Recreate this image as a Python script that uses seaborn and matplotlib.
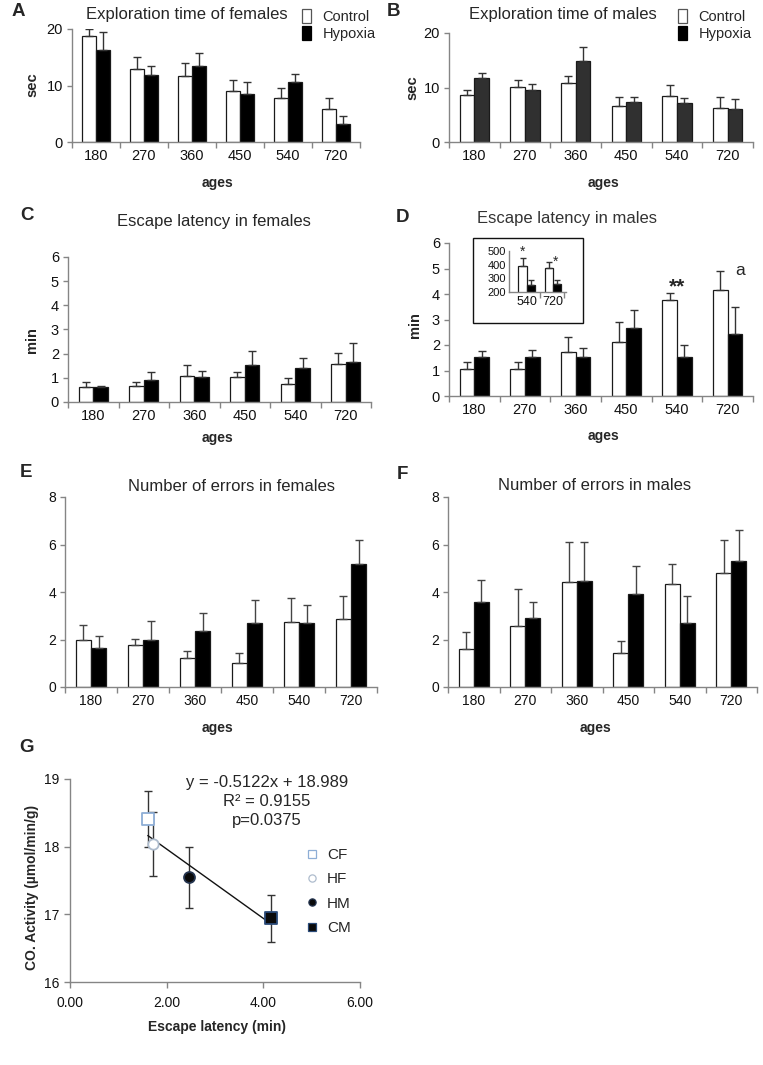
import numpy as np
import pandas as pd
import matplotlib
matplotlib.use("Agg")
import matplotlib.pyplot as plt
import seaborn as sns
from matplotlib.patches import Patch, Rectangle
from matplotlib.lines import Line2D

# ---------------- data ----------------
ages = ["180", "270", "360", "450", "540", "720"]
groups = ["Control", "Hypoxia"]

explo_f_ctrl = [18.7, 12.9, 11.7, 9.1, 7.7, 5.9]
explo_f_ctrl_err = [1.3, 2.2, 2.2, 1.8, 1.8, 1.8]
explo_f_hyp = [16.3, 11.9, 13.5, 8.5, 10.7, 3.2]
explo_f_hyp_err = [3.1, 1.5, 2.2, 2.1, 1.3, 1.4]

explo_m_ctrl = [8.55, 10.15, 10.9, 6.6, 8.4, 6.3]
explo_m_ctrl_err = [0.95, 1.15, 1.2, 1.7, 2.1, 1.9]
explo_m_hyp = [11.7, 9.5, 14.9, 7.3, 7.2, 6.0]
explo_m_hyp_err = [1.0, 1.1, 2.5, 1.0, 0.9, 1.8]

lat_f_ctrl = [0.63, 0.67, 1.09, 1.05, 0.75, 1.58]
lat_f_ctrl_err = [0.21, 0.17, 0.44, 0.21, 0.25, 0.44]
lat_f_hyp = [0.60, 0.90, 1.05, 1.53, 1.40, 1.67]
lat_f_hyp_err = [0.08, 0.33, 0.23, 0.59, 0.41, 0.77]

lat_m_ctrl = [1.06, 1.06, 1.73, 2.13, 3.76, 4.15]
lat_m_ctrl_err = [0.26, 0.27, 0.59, 0.78, 0.26, 0.75]
lat_m_hyp = [1.54, 1.51, 1.51, 2.67, 1.51, 2.45]
lat_m_hyp_err = [0.22, 0.29, 0.39, 0.70, 0.49, 1.05]

inset_ages = ["540", "720"]
inset_ctrl = [390, 378]
inset_ctrl_err = [60, 38]
inset_hyp = [250, 262]
inset_hyp_err = [35, 25]

err_f_ctrl = [2.0, 1.75, 1.24, 0.99, 2.72, 2.85]
err_f_ctrl_err = [0.63, 0.29, 0.27, 0.46, 1.04, 0.98]
err_f_hyp = [1.66, 2.0, 2.34, 2.68, 2.68, 5.18]
err_f_hyp_err = [0.48, 0.77, 0.76, 0.98, 0.76, 0.99]

err_m_ctrl = [1.58, 2.58, 4.44, 1.44, 4.34, 4.82]
err_m_ctrl_err = [0.72, 1.56, 1.66, 0.48, 0.84, 1.36]
err_m_hyp = [3.56, 2.9, 4.45, 3.9, 2.68, 5.31]
err_m_hyp_err = [0.93, 0.69, 1.66, 1.18, 1.15, 1.29]

co_groups = ["CF", "HF", "HM", "CM"]
co_latency = [1.61, 1.71, 2.46, 4.15]
co_activity = [18.41, 18.04, 17.55, 16.94]
co_err = [0.41, 0.47, 0.45, 0.35]
fit_slope = -0.5122
fit_intercept = 18.989

# ---------------- style ----------------
sns.set_style("white")
plt.rcParams["font.family"] = ["Liberation Sans", "DejaVu Sans"]
plt.rcParams["axes.linewidth"] = 1.0

W, H = 763, 1065
fig = plt.figure(figsize=(W / 100, H / 100), dpi=100)


def fx(px):
    return px / W


def fy(py):
    return 1 - py / H


def rect(x0, y0, x1, y1):
    return [fx(x0), fy(y1), fx(x1) - fx(x0), fy(y0) - fy(y1)]


SPINE = "#858585"


def style_axes(ax):
    for s in ["top", "right"]:
        ax.spines[s].set_visible(False)
    for s in ["left", "bottom"]:
        ax.spines[s].set_color(SPINE)
        ax.spines[s].set_linewidth(1.0)


def bar_panel(r, ctrl, ctrl_err, hyp, hyp_err, ylim, yticks, hyp_color="black",
              cats=ages, width=0.58, fs=10.5, yfs=10.5, capsize=3.2, ecolor="#333333",
              xlim=None):
    ax = fig.add_axes(r)
    n = len(cats)
    df = pd.DataFrame({"age": cats * 2,
                       "group": ["Control"] * n + ["Hypoxia"] * n,
                       "value": list(ctrl) + list(hyp)})
    sns.barplot(data=df, x="age", y="value", hue="group", order=cats, hue_order=groups,
                palette={"Control": "white", "Hypoxia": hyp_color}, width=width,
                errorbar=None, edgecolor="#1a1a1a", linewidth=0.9, saturation=1,
                legend=False, ax=ax)
    for cont, err in zip(ax.containers, [ctrl_err, hyp_err]):
        xs = [p.get_x() + p.get_width() / 2 for p in cont]
        ys = [p.get_height() for p in cont]
        ax.errorbar(xs, ys, yerr=[np.zeros(len(err)), err], fmt="none", ecolor=ecolor,
                    elinewidth=1.0, capsize=capsize, capthick=1.0, zorder=1)
    style_axes(ax)
    ax.set_ylim(*ylim)
    ax.set_yticks(yticks)
    ax.set_xlim(*(xlim if xlim else (-0.5, n - 0.5)))
    ax.set_xticks(range(n))
    ax.set_xticklabels(cats)
    ax.set_xticks(np.arange(-0.5, n, 1.0), minor=True)
    ax.tick_params(axis="x", which="major", length=0, labelsize=fs, pad=5, labelcolor="#111")
    ax.tick_params(axis="x", which="minor", length=4, width=1, color=SPINE, direction="out",
                   bottom=True)
    ax.tick_params(axis="y", which="major", length=3.5, width=1, color=SPINE, direction="out",
                   left=True, labelsize=yfs, pad=3, labelcolor="#111")
    ax.set_xlabel("")
    ax.set_ylabel("")
    return ax


def ftext(px, py, s, **kw):
    fig.text(fx(px), fy(py), s, ha=kw.pop("ha", "center"), va=kw.pop("va", "center"), **kw)


# ---------------- A ----------------
axA = bar_panel(rect(72, 29, 360, 142), explo_f_ctrl, explo_f_ctrl_err, explo_f_hyp,
                explo_f_hyp_err, (0, 20), [0, 10, 20])
# ---------------- B ----------------
axB = bar_panel(rect(449, 33, 753, 142), explo_m_ctrl, explo_m_ctrl_err, explo_m_hyp,
                explo_m_hyp_err, (0, 20), [0, 10, 20], hyp_color="#303030")
# ---------------- C ----------------
axC = bar_panel(rect(68, 257, 371, 402), lat_f_ctrl, lat_f_ctrl_err, lat_f_hyp,
                lat_f_hyp_err, (0, 6), range(0, 7))
# ---------------- D ----------------
axD = bar_panel(rect(449, 243, 753, 396), lat_m_ctrl, lat_m_ctrl_err, lat_m_hyp,
                lat_m_hyp_err, (0, 6), range(0, 7))
axD.text(4, 4.08, "**", ha="center", va="baseline", fontsize=15, fontweight="bold")
axD.text(5.24, 4.74, "a", ha="center", va="baseline", fontsize=12.5)

# inset box and inset axes
fig.add_artist(Rectangle((fx(473), fy(323)), fx(583) - fx(473), fy(238) - fy(323),
                         transform=fig.transFigure, fill=False, edgecolor="#111",
                         linewidth=1.0))
axI = bar_panel(rect(509, 251, 566, 292), inset_ctrl, inset_ctrl_err, inset_hyp,
                inset_hyp_err, (200, 500), [200, 300, 400, 500], cats=inset_ages,
                width=0.62, fs=9, yfs=8, capsize=2.2, xlim=(-0.67, 1.44))
axI.tick_params(axis="x", which="major", pad=3)
axI.tick_params(axis="y", which="major", length=0, pad=2)
axI.set_xticks([0.5, 1.44], minor=True)
axI.text(-0.15, 462, "*", ha="center", va="baseline", fontsize=10, clip_on=False)
axI.text(1.11, 393, "*", ha="center", va="baseline", fontsize=10, clip_on=False)

# ---------------- E ----------------
axE = bar_panel(rect(65, 497, 377, 687), err_f_ctrl, err_f_ctrl_err, err_f_hyp,
                err_f_hyp_err, (0, 8), [0, 2, 4, 6, 8], fs=10, yfs=10, ecolor="#444444")
# ---------------- F ----------------
axF = bar_panel(rect(448, 497, 757, 687), err_m_ctrl, err_m_ctrl_err, err_m_hyp,
                err_m_hyp_err, (0, 8), [0, 2, 4, 6, 8], fs=10, yfs=10, ecolor="#444444")

# legends for A and B
leg_handles = [Patch(facecolor="white", edgecolor="#555555", linewidth=0.9),
               Patch(facecolor="black", edgecolor="black", linewidth=0.9)]
for lx in (302, 678):
    fig.legend(leg_handles, groups, loc="upper left", bbox_to_anchor=(fx(lx), fy(9)),
               bbox_transform=fig.transFigure, frameon=False, fontsize=10.5,
               handlelength=0.6, handleheight=1.15, handletextpad=0.8, labelspacing=0.12,
               borderpad=0, borderaxespad=0)

# ---------------- G ----------------
axG = fig.add_axes(rect(70, 779, 360, 982))
style_axes(axG)
axG.errorbar(co_latency, co_activity, yerr=co_err, fmt="none", ecolor="#333333",
             elinewidth=1.0, capsize=3.2, capthick=1.0, zorder=1)
fit_x = np.array([min(co_latency), max(co_latency)])
axG.plot(fit_x, fit_slope * fit_x + fit_intercept, color="#111", lw=1.0, zorder=2)
co_df = pd.DataFrame({"latency": co_latency, "activity": co_activity, "grp": co_groups})
co_marker = {"CF": "s", "HF": "o", "HM": "o", "CM": "s"}
co_face = {"CF": "white", "HF": "white", "HM": "#0a0a0a", "CM": "#0a0a0a"}
co_edge = {"CF": "#8eaed6", "HF": "#aebccd", "HM": "#24344f", "CM": "#2a4a78"}
co_size = {"CF": 78, "HF": 56, "HM": 62, "CM": 70}
for g in co_groups:
    sub = co_df[co_df.grp == g]
    sns.scatterplot(data=sub, x="latency", y="activity", marker=co_marker[g], s=co_size[g],
                    color=co_face[g], edgecolor=co_edge[g], linewidth=1.3, ax=axG, zorder=3,
                    legend=False)
axG.set_xlim(0, 6)
axG.set_ylim(16, 19)
axG.set_xticks([0, 2, 4, 6])
axG.set_xticklabels([f"{v:.2f}" for v in [0, 2, 4, 6]])
axG.set_yticks([16, 17, 18, 19])
axG.tick_params(axis="both", length=4, width=1, color=SPINE, direction="out", labelsize=10,
                labelcolor="#111", bottom=True, left=True)
axG.tick_params(axis="x", pad=6)
axG.set_xlabel("")
axG.set_ylabel("")
g_handles = [Line2D([], [], ls="none", marker=co_marker[g], markersize=5.2,
                    markerfacecolor=co_face[g], markeredgecolor=co_edge[g],
                    markeredgewidth=0.9) for g in co_groups]
fig.legend(g_handles, co_groups, loc="upper left", bbox_to_anchor=(fx(304), fy(848)),
           bbox_transform=fig.transFigure, frameon=False, fontsize=11, handlelength=1.0,
           handletextpad=0.5, labelspacing=0.68, borderpad=0, borderaxespad=0)

ftext(267, 782, "y = -0.5122x + 18.989", fontsize=12)
ftext(267, 802, "R² = 0.9155", fontsize=12)
ftext(267, 821, "p=0.0375", fontsize=12)

# ---------------- titles, letters, labels ----------------
title_fs = 12
ftext(187, 14, "Exploration time of females", fontsize=title_fs)
ftext(563, 14, "Exploration time of males", fontsize=title_fs)
ftext(214, 222, "Escape latency in females", fontsize=title_fs)
ftext(567, 219, "Escape latency in males", fontsize=title_fs, color="#333")
ftext(232, 486, "Number of errors in females", fontsize=title_fs)
ftext(595, 485, "Number of errors in males", fontsize=title_fs)

for letter, (lx, ly) in {"A": (18, 12), "B": (394, 12), "C": (27, 215), "D": (402, 218),
                         "E": (26, 473), "F": (402, 474), "G": (27, 748)}.items():
    ftext(lx, ly, letter, fontsize=13.5, fontweight="bold")

for ax_x, ax_y in [(217, 183), (603, 183), (217, 438), (603, 436), (217, 728), (595, 728)]:
    ftext(ax_x, ax_y, "ages", fontsize=10, fontweight="bold")

ftext(32, 85, "sec", fontsize=10.5, fontweight="bold", rotation=90)
ftext(412, 88, "sec", fontsize=10.5, fontweight="bold", rotation=90)
ftext(32, 340, "min", fontsize=10.5, fontweight="bold", rotation=90)
ftext(415, 325, "min", fontsize=10.5, fontweight="bold", rotation=90)
ftext(32, 887, "CO. Activity (µmol/min/g)", fontsize=10, fontweight="bold", rotation=90)
ftext(217, 1027, "Escape latency (min)", fontsize=10, fontweight="bold")

fig.savefig("out.png", dpi=100, facecolor="white")
